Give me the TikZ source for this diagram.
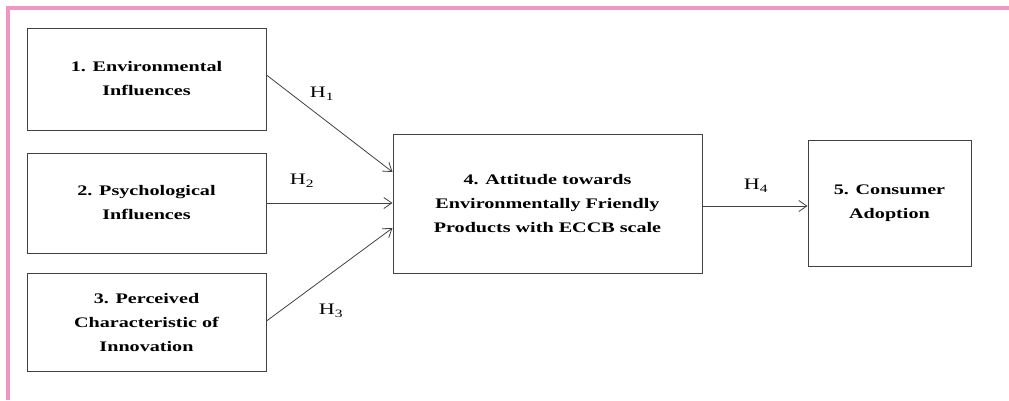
\documentclass[tikz,border=0pt]{standalone}
\usepackage{fontspec}
\setmainfont{Liberation Serif}[FakeStretch=1.38]
\usetikzlibrary{arrows.meta}
\definecolor{cadrerose}{RGB}{240,150,192}
\definecolor{traitgris}{RGB}{65,65,65}
\newcommand{\hyp}[1]{H\textsubscript{#1}}
\begin{document}
\begin{tikzpicture}[x=1pt,y=-1pt]
\tikzset{boite/.style={draw=traitgris, line width=1pt, inner sep=0pt, align=center,
    font=\bfseries\fontsize{14.6}{24}\selectfont},
  fleche/.style={draw=traitgris, line width=0.8pt, -{Straight Barb[length=8pt,width=11pt]}},
  hlab/.style={font=\fontsize{16}{18}\selectfont, inner sep=0pt}}
\useasboundingbox (0,0) rectangle (1009,400);
\draw[cadrerose, line width=3.2pt] (8,400) -- (8,8) -- (1009,8);
\node[boite, minimum width=239pt, minimum height=102pt] (env) at (146.5,79) {1. Environmental\\Influences};
\node[boite, minimum width=239pt, minimum height=100pt] (psy) at (146.5,203) {2. Psychological\\Influences};
\node[boite, minimum width=239pt, minimum height=98pt] (pci) at (146.5,322) {3. Perceived\\Characteristic of\\Innovation};
\node[boite, minimum width=309pt, minimum height=139pt] (att) at (547.5,203.5) {4. Attitude towards\\Environmentally Friendly\\Products with ECCB scale};
\node[boite, minimum width=163pt, minimum height=126pt] (adopt) at (889.5,203) {5. Consumer\\Adoption};
\draw[fleche] ([yshift=4pt]env.east) -- ([yshift=31.5pt]att.west);
\draw[fleche] (psy.east) -- (psy.east -| att.west);
\draw[fleche] ([yshift=1pt]pci.east) -- ([yshift=-24.5pt]att.west);
\draw[fleche] ([yshift=-2.5pt]att.east) -- ([yshift=-2.5pt]att.east -| adopt.west);
\node[hlab] (h1) at (322,94) {\hyp{1}};
\node[hlab] (h2) at (302,181) {\hyp{2}};
\node[hlab] (h3) at (331,311) {\hyp{3}};
\node[hlab] (h4) at (756,186) {\hyp{4}};
\end{tikzpicture}
\end{document}
